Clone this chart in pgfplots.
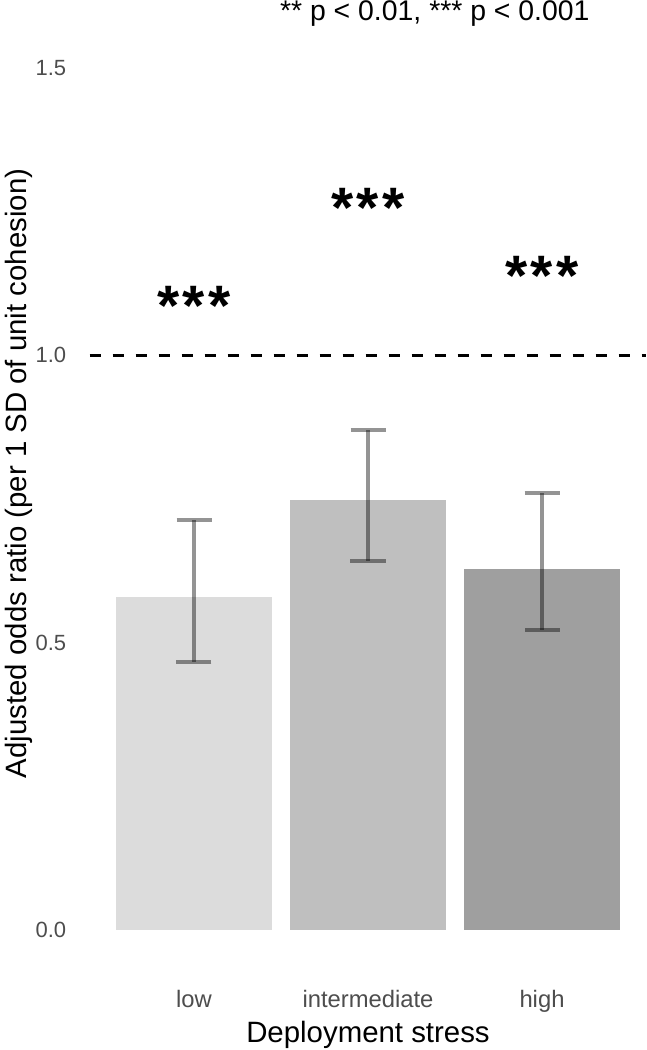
\documentclass[border=0pt]{standalone}
\usepackage{fontspec}
\setmainfont{Liberation Sans}
\usepackage{pgfplots}
\pgfplotsset{compat=1.18}
\usepackage{pgfplotstable}
\definecolor{lowc}{RGB}{220,220,220}
\definecolor{midc}{RGB}{191,191,191}
\definecolor{highc}{RGB}{159,159,159}
\definecolor{tickc}{RGB}{77,77,77}

\pgfplotstableread{
x y ep em
1 0.579 0.134 0.112
2 0.749 0.121 0.1075
3 0.629 0.132 0.107
}\citable

\newcommand{\stars}{*\kern1.8pt*\kern1.8pt*}

\begin{document}
\begin{tikzpicture}
\path[use as bounding box] (-44.8pt,-38.45pt) rectangle (278.7pt,486.55pt);
\begin{axis}[
  at={(0,0)}, anchor=south west,
  scale only axis, width=278.4pt, height=474.1pt,
  xmin=0.4, xmax=3.6, ymin=-0.075, ymax=1.575,
  clip=false,
  axis line style={draw=none},
  major tick length=0pt,
  tick style={draw=none},
  xtick={1,2,3}, xticklabels={low,intermediate,high},
  ytick={0,0.5,1,1.5},
  /pgf/number format/assume math mode=true,
  yticklabel style={/pgf/number format/.cd, fixed, fixed zerofill, precision=1,
     /tikz/.cd, font=\fontsize{11}{13}\selectfont, text=tickc, anchor=east, inner sep=0pt, xshift=-11.5pt},
  xticklabel style={font=\fontsize{11.9}{14}\selectfont, text=tickc, anchor=base, inner sep=0pt, yshift=-17pt},
  xlabel={Deployment stress},
  ylabel={Adjusted odds ratio (per 1 SD of unit cohesion)},
  xlabel style={font=\fontsize{14.7}{17}\selectfont, at={(axis description cs:0.5,0)}, anchor=base, inner sep=0pt, yshift=-34.5pt},
  ylabel style={font=\fontsize{14.7}{17}\selectfont, at={(axis description cs:-0.1268,0.527)}, anchor=center, inner sep=0pt},
]
\addplot[ybar, bar width=0.9, bar shift=0pt, fill=lowc, draw=none] coordinates {(1,0.579)};
\addplot[ybar, bar width=0.9, bar shift=0pt, fill=midc, draw=none] coordinates {(2,0.749)};
\addplot[ybar, bar width=0.9, bar shift=0pt, fill=highc, draw=none] coordinates {(3,0.629)};
\addplot[draw=none, mark=none, forget plot,
  error bars/.cd, y dir=both, y explicit,
  error bar style={line width=2pt, black, opacity=0.42},
  error mark options={rotate=90, line width=2pt, black, opacity=0.42, mark size=8.75pt}]
  table[x=x, y=y, y error plus=ep, y error minus=em] {\citable};
\addplot[black, line width=1.5pt, dash pattern=on 5.75pt off 5.75pt] coordinates {(0.4,1) (3.6,1)};
\node[anchor=base, inner sep=0pt, font=\fontsize{28.5}{29}\selectfont\bfseries, yshift=-14pt] at (axis cs:1,1.100) {\stars};
\node[anchor=base, inner sep=0pt, font=\fontsize{28.5}{29}\selectfont\bfseries, yshift=-14pt] at (axis cs:2,1.272) {\stars};
\node[anchor=base, inner sep=0pt, font=\fontsize{28.5}{29}\selectfont\bfseries, yshift=-14pt] at (axis cs:3,1.152) {\stars};
\node[anchor=center, inner sep=0pt, font=\fontsize{14.2}{16}\selectfont] at (axis description cs:0.62,1.0125) {** p < 0.01, *** p < 0.001};
\end{axis}
\end{tikzpicture}
\end{document}
